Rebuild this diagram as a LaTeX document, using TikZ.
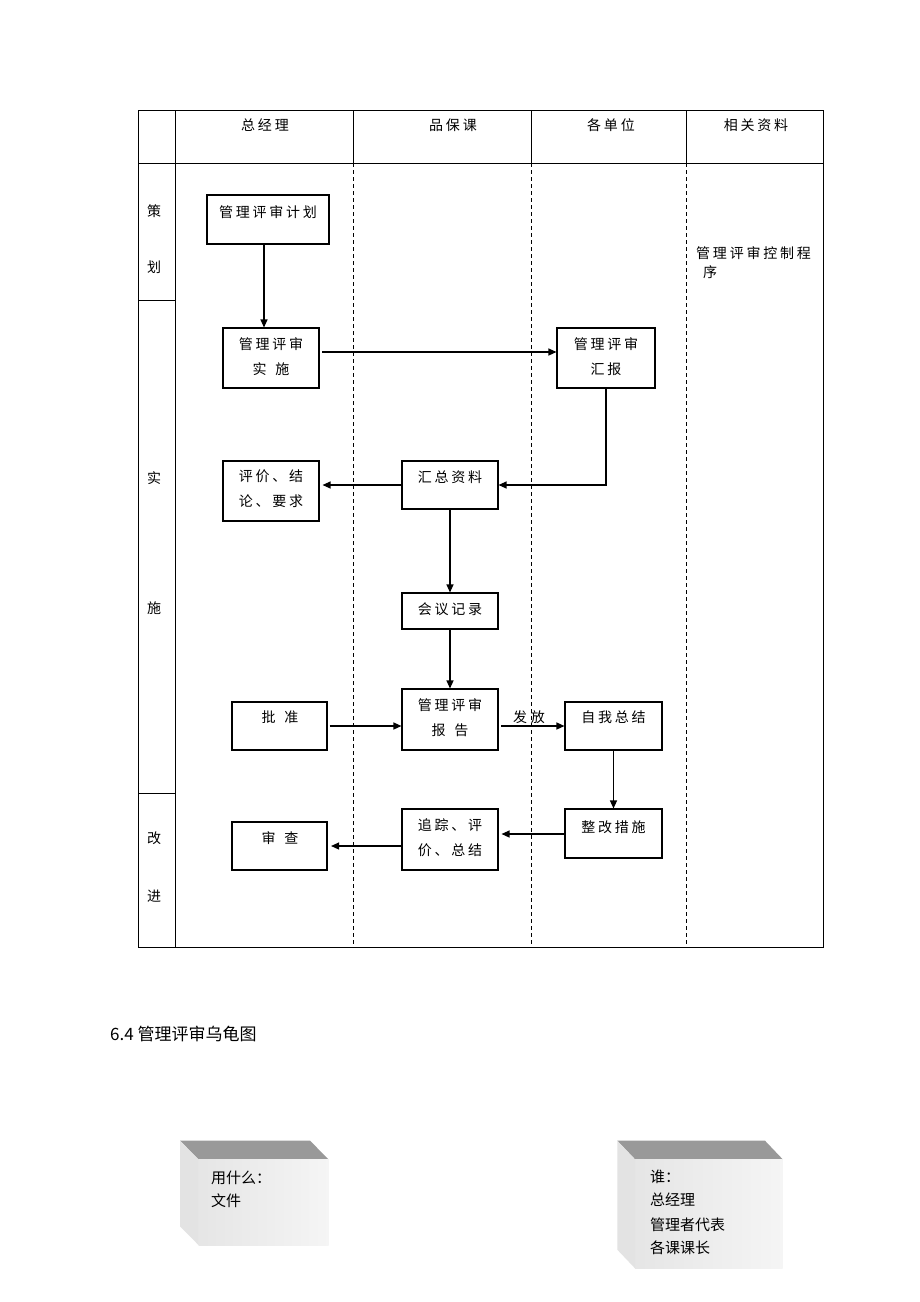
\documentclass[tikz,border=0pt]{standalone}
\usepackage{fontspec}
\setmainfont{Noto Sans CJK SC}
\newfontfamily\tf[LetterSpace=20]{Noto Sans CJK SC}
\usetikzlibrary{arrows.meta}
\begin{document}
\begin{tikzpicture}[x=1pt,y=-1pt,
  box/.style={draw, line width=1.1pt, inner sep=0pt},
  txt/.style={font=\fontsize{14}{25}\selectfont\tf, align=center, inner sep=0pt},
  lbl/.style={font=\fontsize{14}{16}\selectfont, inner sep=0pt},
  btxt/.style={font=\fontsize{15}{18}\selectfont, inner sep=0pt, anchor=west},
  arr/.style={draw, line width=1.2pt, -{Triangle[length=8pt,width=7pt]}},
  tline/.style={line width=0.8pt},
  dline/.style={line width=0.8pt, dash pattern=on 4pt off 3pt}]
\useasboundingbox (0,0) rectangle (920,1302);
\fill[white] (0,0) rectangle (920,1302);
% table
\draw[tline] (138,110) rectangle (823,947);
\draw[tline] (175,110) -- (175,947);
\draw[tline] (138,163) -- (823,163);
\draw[tline] (138,300) -- (175,300);
\draw[tline] (138,793) -- (175,793);
\foreach \x in {353,531,686}{
  \draw[tline] (\x,110) -- (\x,163);
  \draw[dline] (\x,163) -- (\x,945);
}
% headers
\node[txt] (h1) at (265,125) {总经理};
\node[txt] (h2) at (453,125) {品保课};
\node[txt] (h3) at (611,125) {各单位};
\node[txt] (h4) at (756,125) {相关资料};
% row labels
\node[lbl] (r1) at (154,211) {策};
\node[lbl] (r2) at (154,267) {划};
\node[lbl] (r3) at (154,478) {实};
\node[lbl] (r4) at (154,608) {施};
\node[lbl] (r5) at (154,838) {改};
\node[lbl] (r6) at (154,896) {进};
% related document
\node[txt, anchor=west] (d1) at (696,253) {管理评审控制程};
\node[txt, anchor=west] (d2) at (703,272) {序};
% boxes
\node[box, minimum width=122pt, minimum height=49pt] (b1) at (268,219.5) {};
\node[box, minimum width=96pt, minimum height=60pt] (b2) at (271,358) {};
\node[box, minimum width=98pt, minimum height=60pt] (b3) at (606,358) {};
\node[box, minimum width=96pt, minimum height=48pt] (b4) at (450,485) {};
\node[box, minimum width=96pt, minimum height=60pt] (b5) at (271,491) {};
\node[box, minimum width=96pt, minimum height=36pt] (b6) at (450,611) {};
\node[box, minimum width=96pt, minimum height=61pt] (b7) at (450,719.5) {};
\node[box, minimum width=95pt, minimum height=48pt] (b8) at (279.5,726) {};
\node[box, minimum width=97pt, minimum height=48pt] (b9) at (613.5,726) {};
\node[box, minimum width=97pt, minimum height=49pt] (b10) at (613.5,833.5) {};
\node[box, minimum width=96pt, minimum height=61pt] (b11) at (450,839.5) {};
\node[box, minimum width=95pt, minimum height=48pt] (b12) at (279.5,846) {};
% box texts
\node[txt] (t1) at (268,212) {管理评审计划};
\node[txt] (t2) at (271,356.5) {管理评审\\实\hspace{9pt}施};
\node[txt] (t3) at (606,356.5) {管理评审\\汇报};
\node[txt] (t4) at (450,477) {汇总资料};
\node[txt] (t5) at (271,489) {评价、结\\论、要求};
\node[txt] (t6) at (450,609) {会议记录};
\node[txt] (t7) at (450,718) {管理评审\\报\hspace{9pt}告};
\node[txt] (t8) at (280,717) {批\hspace{9pt}准};
\node[txt] (t9) at (613.5,717) {自我总结};
\node[txt] (t10) at (613.5,827) {整改措施};
\node[txt] (t11) at (450,838) {追踪、评\\价、总结};
\node[txt] (t12) at (280,838) {审\hspace{9pt}查};
% connectors
\draw[arr] ([xshift=-4pt]b1.south) -- ([xshift=-7pt]b2.north);
\draw[arr] ([xshift=2.5pt,yshift=6pt]b2.east) -- ([yshift=6pt]b3.west);
\draw[arr] (b3.south) |- (b4.east);
\draw[arr] (b4.west) -- ([xshift=3pt]b4.west -| b5.east);
\draw[arr] (b4.south) -- (b6.north);
\draw[arr] (b6.south) -- (b7.north);
\draw[arr] ([xshift=2pt]b8.east) -- (b8.east -| b7.west);
\draw[arr] ([xshift=2.5pt]b9.west -| b7.east) -- (b9.west);
\node[txt] (fa) at (529,717) {发\hspace{4pt}放};
\draw[arr] (b9.south) -- (b10.north);
\draw[arr] ([yshift=-0.5pt]b10.west) -- ([xshift=3pt,yshift=-0.5pt]b10.west -| b11.east);
\draw[arr] (b11.west |- b12.east) -- ([xshift=3.5pt]b12.east);
% title
\node[font=\fontsize{17}{20}\selectfont, anchor=west, inner sep=0pt] (title) at (110,1034) {6.4 管理评审乌龟图};
% 3D boxes
\fill[black!40] (180,1140.7) -- (310,1140.7) -- (328.5,1159.3) -- (198.5,1159.3) -- cycle;
\fill[black!11] (180,1140.7) -- (198.5,1159.3) -- (198.5,1245) -- (180,1226.4) -- cycle;
\shade[left color=black!10, right color=black!4] (198.5,1159.3) rectangle (328.5,1245);
\node[btxt] (u1) at (211,1178) {用什么：};
\node[btxt] (u2) at (211,1201) {文件};
\fill[black!40] (617.3,1140.7) -- (765,1140.7) -- (782.7,1159.3) -- (635,1159.3) -- cycle;
\fill[black!11] (617.3,1140.7) -- (635,1159.3) -- (635,1268.3) -- (617.3,1249.7) -- cycle;
\shade[left color=black!10, right color=black!4] (635,1159.3) rectangle (782.7,1268.3);
\node[btxt] (w1) at (650,1177) {谁：};
\node[btxt] (w2) at (650,1200) {总经理};
\node[btxt] (w3) at (650,1225) {管理者代表};
\node[btxt] (w4) at (650,1248) {各课课长};
\end{tikzpicture}
\end{document}
